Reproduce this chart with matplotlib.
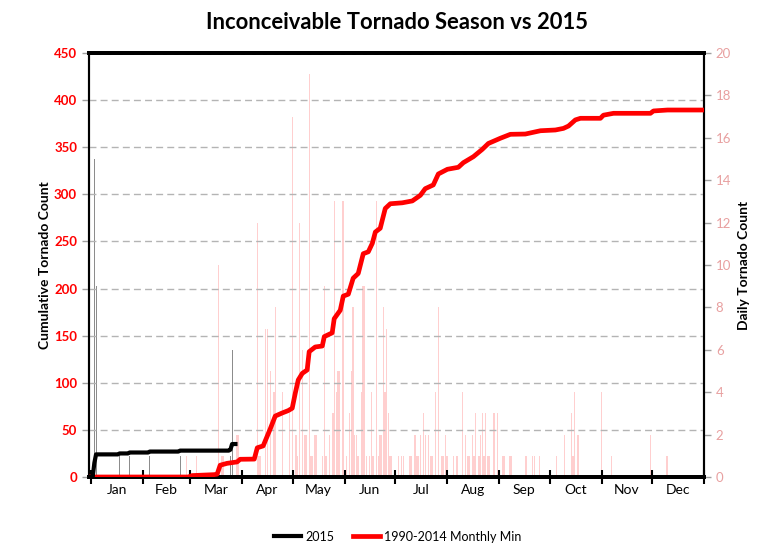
import numpy as np
import matplotlib
matplotlib.use('Agg')
import matplotlib.pyplot as plt

plt.rcParams['font.family'] = ['Lato', 'DejaVu Sans']

# month boundaries (day of year) and labels
month_edges = [0, 31, 59, 90, 120, 151, 181, 212, 243, 273, 304, 334, 365]
months = ['Jan', 'Feb', 'Mar', 'Apr', 'May', 'Jun', 'Jul', 'Aug', 'Sep', 'Oct', 'Nov', 'Dec']

# 2015 daily counts (right axis)
days_2015 = [2, 3, 17, 23, 35, 53, 83, 84]
daily_2015 = [15, 9, 1, 1, 1, 1, 1, 6]

# 2015 cumulative (left axis)
cum_days_2015 = [0, 1, 2, 3, 16, 17, 22, 23, 34, 35, 52, 53, 82, 83, 84, 85, 86]
cum_2015 = [0, 0, 15, 24, 24, 25, 25, 26, 26, 27, 27, 28, 28, 29, 35, 35, 35]

# 1990-2014 monthly min, daily counts (right axis)
min_days = [57, 63, 76, 78, 79, 87, 88,
            99, 100, 101, 104, 105, 107, 109, 110, 114, 118,
            120, 122, 123, 124, 126, 127, 128, 130, 131, 132, 133, 134, 138, 139, 140,
            142, 144, 145, 146, 147, 148, 150,
            152, 154, 155, 156, 157, 158, 159, 161, 162, 163, 164, 166, 167, 168, 170,
            171, 172, 173, 174, 175, 176, 177, 178, 179,
            183, 185, 186, 190, 191, 193, 194, 195, 196, 198, 199, 201, 202, 203, 205,
            207, 209, 210, 211,
            212, 216, 218, 221, 223, 224, 225, 227, 228, 229, 231, 232, 233, 234, 235,
            236, 237, 240, 242,
            245, 246, 249, 250, 259, 263, 264, 267,
            277, 282, 286, 287, 288, 290,
            304, 310, 333, 343]
min_daily = [1, 1, 10, 1, 1, 2, 2,
             12, 1, 1, 7, 7, 5, 4, 8, 4, 3,
             17, 2, 1, 12, 6, 2, 2, 19, 1, 1, 2, 2, 1, 9, 1,
             2, 3, 13, 4, 5, 5, 13,
             1, 3, 5, 8, 2, 2, 1, 4, 9, 9, 1, 1, 4, 1, 13,
             1, 2, 2, 8, 4, 7, 3, 1, 1,
             1, 1, 1, 1, 1, 2, 1, 1, 2, 3, 2, 2, 1, 1, 4,
             8, 1, 1, 2,
             1, 1, 1, 4, 2, 1, 1, 2, 1, 3, 1, 2, 3, 1, 3,
             1, 1, 3, 3,
             1, 1, 1, 1, 1, 1, 1, 1,
             1, 2, 3, 1, 4, 2,
             4, 1, 2, 1]

# 1990-2014 monthly min cumulative (left axis)
min_cum_days = [0, 57.8, 60.2, 73.3, 75.1, 76.9, 81.0, 87.0, 88.8, 97.2, 99.0, 102.5,
                106.7, 109.7, 113.9, 117.5, 119.8, 121.6, 123.4, 125.8, 128.7, 129.9,
                133.5, 137.7, 138.9, 143.6, 144.8, 148.4, 150.2, 153.2, 156.1, 159.1,
                162.1, 165.1, 167.5, 169.3, 172.2, 175.2, 178.2, 185.3, 191.3, 196.1,
                199.0, 203.8, 206.8, 212.2, 218.7, 221.7, 227.7, 233.0, 236.6, 243.7,
                249.7, 258.6, 267.6, 276.5, 281.3, 284.3, 288.4, 291.4, 303.3, 305.1,
                311.1, 333.1, 334.9, 343.3, 365]
min_cum = [0, 0, 1.5, 2.5, 3, 12.5, 14.5, 16, 18.8, 19, 31, 33,
           51, 64.7, 68, 70.5, 73, 88.8, 103, 110, 113.6, 133,
           138, 139, 149, 153, 168, 177, 192, 194, 211, 216,
           237, 239, 248, 260, 264, 285, 290, 291, 293, 299,
           306, 310, 321.6, 326.6, 328.7, 333.6, 340, 347.8, 354, 359.5,
           363.7, 364, 367.5, 368.3, 370, 372.5, 379, 380.7, 380.7, 384,
           386, 386, 388.5, 389.5, 389.5]

fig = plt.figure(figsize=(7.8, 5.51), dpi=100)
ax1 = fig.add_axes([0.1141, 0.1343, 0.7885, 0.7695])
ax2 = ax1.twinx()
ax1.set_zorder(ax2.get_zorder() + 1)
ax1.patch.set_visible(False)

ax2.bar(min_days, min_daily, width=0.8, color='#ffcfcf', linewidth=0)
ax2.bar(days_2015, daily_2015, width=0.6, color='#8c8c8c', linewidth=0)
ax2.set_ylim(0, 20)
ax2.set_yticks(range(0, 21, 2))
ax2.tick_params(axis='y', colors='#a0a0a0', labelcolor='#e8a0a0', labelsize=9.5,
                length=5, width=1, direction='out')
ax2.set_ylabel('Daily Tornado Count', fontsize=10, fontweight='bold', labelpad=5)

ax1.set_ylim(0, 450)
ax1.set_yticks(range(0, 451, 50))
ax1.yaxis.grid(True, color='#b4b4b4', linestyle=(0, (5, 3)), linewidth=1)
ax1.tick_params(axis='y', colors='#a0a0a0', labelcolor='red', labelsize=9.5,
                length=5, width=1, direction='out')
for lab in ax1.get_yticklabels():
    lab.set_fontweight('bold')
ax1.set_ylabel('Cumulative Tornado Count', fontsize=10, fontweight='bold', labelpad=2)

ax1.plot(min_cum_days, min_cum, color='red', linewidth=3.4, solid_joinstyle='round',
         label='1990-2014 Monthly Min', zorder=4)
ax1.plot(cum_days_2015, cum_2015, color='black', linewidth=3, solid_joinstyle='round',
         label='2015', zorder=5)

ax1.set_xlim(-1.2, 365)
ax1.set_xticks(month_edges)
ax1.set_xticklabels([])
ax1.set_xticks([(month_edges[i] + month_edges[i + 1]) / 2 for i in range(12)], minor=True)
ax1.set_xticklabels(months, minor=True, fontsize=10)
ax1.tick_params(axis='x', which='major', direction='inout', length=10, width=1.5)
ax1.tick_params(axis='x', which='minor', length=0, pad=5)

for ax in (ax1, ax2):
    ax.spines['top'].set_linewidth(2.8)
    ax.spines['bottom'].set_linewidth(2.8)
    ax.spines['left'].set_linewidth(1.5)
    ax.spines['right'].set_linewidth(1.5)

fig.text(0.509, 0.96, 'Inconceivable Tornado Season vs 2015', ha='center', va='center',
         fontsize=15.8, fontweight='bold')

h1, l1 = ax1.get_legend_handles_labels()
fig.legend(h1[::-1], l1[::-1], loc='center', bbox_to_anchor=(0.51, 0.026), ncol=2,
           frameon=False, fontsize=9, handlelength=2.2, handletextpad=0.3, columnspacing=1.5)

plt.savefig('out.png', dpi=100)
